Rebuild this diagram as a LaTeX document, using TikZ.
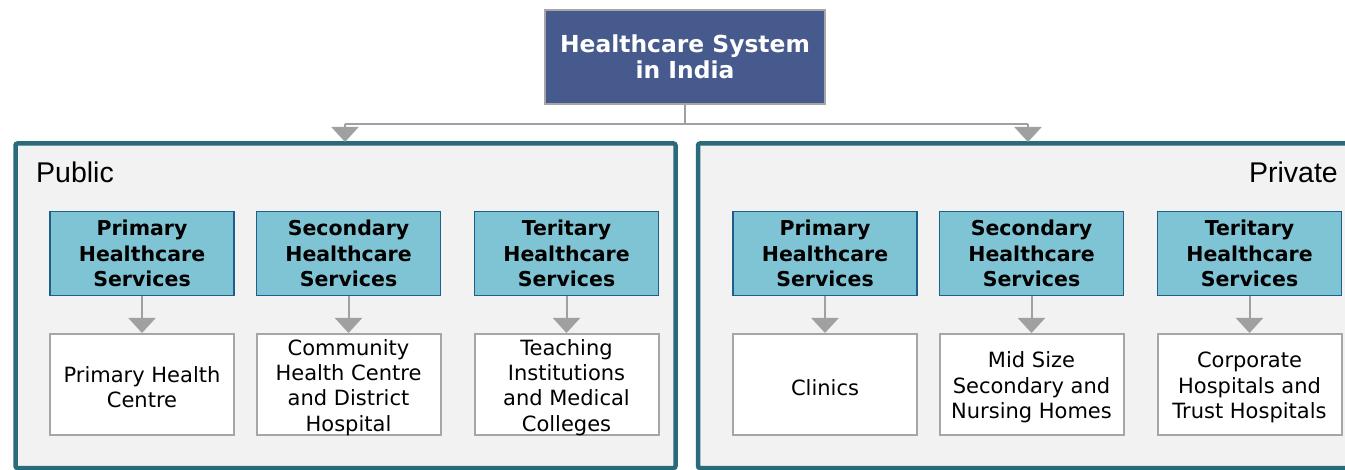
\documentclass[tikz,border=0pt]{standalone}
\usepackage{fontspec}
\setmainfont{DejaVu Sans}
\newfontfamily\arialfont{Liberation Sans}
\usetikzlibrary{arrows.meta}
\definecolor{topfill}{HTML}{475A8D}
\definecolor{topborder}{HTML}{A6A6A6}
\definecolor{hdrfill}{HTML}{7FC4D4}
\definecolor{hdrborder}{HTML}{1F5E8A}
\definecolor{panelborder}{HTML}{2A6B7B}
\definecolor{panelfill}{HTML}{F2F2F2}
\definecolor{arrowgray}{HTML}{A0A0A0}
\definecolor{boxborder}{HTML}{A6A6A6}
\tikzset{
  topbox/.style={draw=topborder, line width=2pt, fill=topfill, text=white,
    minimum width=280pt, minimum height=94pt, inner sep=0pt, align=center,
    font=\fontsize{23.4}{26}\selectfont\bfseries},
  panel/.style={draw=panelborder, line width=4.5pt, fill=panelfill, rounded corners=2pt},
  hdr/.style={draw=hdrborder, line width=1.5pt, fill=hdrfill,
    minimum width=184pt, minimum height=84pt, inner sep=0pt, align=center,
    font=\fontsize{20.5}{25.3}\selectfont\bfseries},
  leaf/.style={draw=boxborder, line width=2pt, fill=white,
    minimum width=184pt, minimum height=101pt, inner sep=0pt},
  leaftext/.style={inner sep=0pt, align=center, yshift=-3pt,
    font=\fontsize{21}{25.3}\selectfont},
  conn/.style={draw=arrowgray, line width=2pt},
  arr/.style={conn, -{Triangle[width=27pt,length=15pt]}},
  plabel/.style={font=\arialfont\fontsize{28.5}{30}\selectfont, inner sep=0pt}
}
\begin{document}
\begin{tikzpicture}[x=1pt,y=-1pt]
\useasboundingbox (0,0) rectangle (1345,470);
% panels
\draw[panel] (15.5,143.5) rectangle (675.5,468);
\draw[panel] (698,143.5) -- (1352,143.5) -- (1352,468) -- (698,468) -- cycle;
\node[plabel, anchor=base west] (pub) at (36,183) {Public};
\node[plabel, anchor=base east] (priv) at (1338,183) {Private};
% top
\node[topbox] (top) at (685,57) {Healthcare System\\in India};
\coordinate (j) at (685,124);
\coordinate (jl) at (345,124);
\coordinate (jr) at (1028,124);
\coordinate (pl) at (345,142);
\coordinate (pr) at (1028,142);
\draw[conn] (top.south) -- (j);
\draw[conn] (jl) -- (jr);
\draw[arr] (jl) -- (pl);
\draw[arr] (jr) -- (pr);
% headers
\node[hdr] (h1) at (142,253.5) {Primary\\Healthcare\\Services};
\node[hdr] (h2) at (348.5,253.5) {Secondary\\Healthcare\\Services};
\node[hdr] (h3) at (566.5,253.5) {Teritary\\Healthcare\\Services};
\node[hdr] (h4) at (825,253.5) {Primary\\Healthcare\\Services};
\node[hdr] (h5) at (1031.5,253.5) {Secondary\\Healthcare\\Services};
\node[hdr] (h6) at (1249.5,253.5) {Teritary\\Healthcare\\Services};
% leaves
\node[leaf, label={[leaftext]center:Primary Health\\Centre}] (l1) at (142,384.5) {};
\node[leaf, label={[leaftext]center:Community\\Health Centre\\and District\\Hospital}] (l2) at (348.5,384.5) {};
\node[leaf, label={[leaftext]center:Teaching\\Institutions\\and Medical\\Colleges}] (l3) at (566.5,384.5) {};
\node[leaf, label={[leaftext]center:Clinics}] (l4) at (825,384.5) {};
\node[leaf, label={[leaftext]center:Mid Size\\Secondary and\\Nursing Homes}] (l5) at (1031.5,384.5) {};
\node[leaf, label={[leaftext]center:Corporate\\Hospitals and\\Trust Hospitals}] (l6) at (1249.5,384.5) {};
\foreach \i in {1,...,6} {
  \draw[arr] (h\i.south) -- (l\i.north);
}
\end{tikzpicture}
\end{document}
